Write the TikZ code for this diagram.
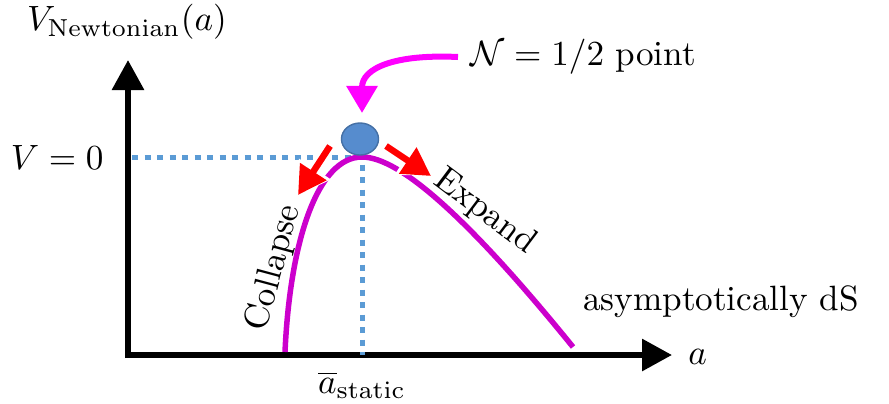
\documentclass[tikz,border=0pt]{standalone}
\usepackage{amsmath}
\usepackage{xcolor}
\usetikzlibrary{shapes,arrows.meta}
\definecolor{dotblue}{RGB}{91,155,213}
\definecolor{ballblue}{RGB}{86,140,206}
\definecolor{curvemag}{RGB}{204,0,204}
\definecolor{pointmag}{RGB}{255,0,255}
\definecolor{arrred}{RGB}{255,0,0}

\begin{document}
\begin{tikzpicture}[x=0.01cm,y=-0.01cm]
			\tikzset{axe/.style={line width=0.06cm, black, -{Triangle[length=0.3cm,width=0.31cm]}},
				pointille/.style={dotblue, line width=0.05cm, dash pattern=on 0.06cm off 0.065cm},
				courbe/.style={curvemag, line width=0.055cm},
				flecheR/.style={arrred, line width=0.065cm, -{Triangle[length=0.28cm,width=0.3cm]},
					preaction={draw=white, line width=0.11cm, -{Triangle[length=0.31cm,width=0.36cm]}}},
				flecheM/.style={pointmag, line width=0.06cm, -{Triangle[length=0.27cm,width=0.3cm]}}};
			\useasboundingbox (0,0) rectangle (889,403);
			% axes
			\coordinate (origin) at (128,355);
			\coordinate (ytip) at (128,60);
			\coordinate (xtip) at (672,355);
			\draw[axe] (128,358) -- (ytip);
			\draw[axe] (125,355) -- (xtip);
			\node (ylab) at (127,22) {$V_{\mathrm{Newtonian}}(a)$};
			\node[right] (xlab) at (676,357) {$a$};
			% V=0 level and static point
			\coordinate (top) at (362,157);
			\coordinate (abar) at (362,355);
			\node[left] (vzero) at (116,157) {$V=0$};
			\draw[pointille] (132,157) -- (top) -- (abar);
			\node (astat) at (362,385) {$\overline{a}_{\mathrm{static}}$};
			% potential
			\draw[courbe] (285,352) .. controls (290,240) and (318,157) .. (top)
				.. controls (400,157) and (470,220) .. (573,347);
			\node[rotate=75] (coll) at (274,268) {Collapse};
			\node[rotate=-37] (exp) at (485,212) {Expand};
			\node (ads) at (721,302) {asymptotically dS};
			% ball and arrows
			\node[ellipse, fill=ballblue, draw=ballblue!80!black, thin,
				minimum width=0.37cm, minimum height=0.32cm, inner sep=0pt] (ball) at (360,139) {};
			\coordinate (colltip) at (298,195);
			\coordinate (exptip) at (431,176);
			\draw[flecheR] (330,146) -- (colltip);
			\draw[flecheR] (386,146) -- (exptip);
			\node[right] (npoint) at (458,57) {$\mathcal{N}=1/2$ point};
			\coordinate (ntip) at (362,113);
			\draw[flecheM] (npoint.west) .. controls (395,54) and (362,68) .. (ntip);
\end{tikzpicture}
\end{document}
